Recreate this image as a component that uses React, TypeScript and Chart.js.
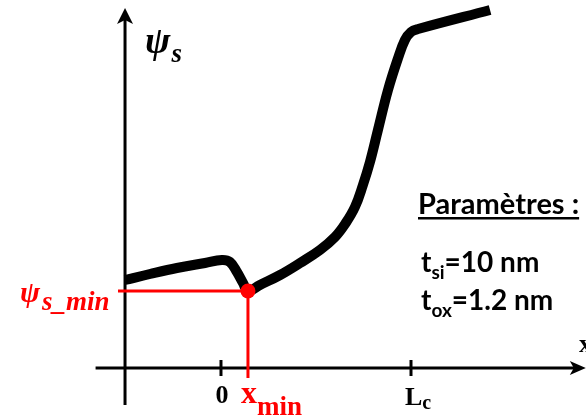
import React, { useEffect, useRef } from "react";
import { Chart, registerables } from "chart.js";

Chart.register(...registerables);

// ---- data (schematic units: x = position, y = surface potential) ----
const curveX = [-50.5, -37.4, -23.2, -8.4, 0.5, 4.7, 8.4, 11.6, 14.2, 20.5, 31.1, 41.6, 52.1, 60, 65.3, 70.5, 74.7, 78.4, 82.6, 87.9, 93.2, 96.8, 100, 103.7, 141.6];
const curveY = [88, 94, 100, 105, 108, 106, 96, 85, 77, 83, 93, 105, 118, 131, 144, 161, 183, 206, 238, 278, 310, 328, 336, 339, 358];
const minPointX = [14.2];
const minPointY = [77];
const hLineX = [-54.2, 14.2];
const vLineY = [77, -10];
const tickValues = [0, 100];
const tickLabels = [["0", ""], ["L", "c"]];
const yAxisX = -50.5;
const yAxisRange = [-37, 360];
const xAxisRange = [-66, 192];
const paramLines = [["t", "si", "=10 nm"], ["t", "ox", "=1.2 nm"]];
const paramTitle = "Paramètres :";

const SERIF = '"Liberation Serif", "DejaVu Serif", serif';
const SANS = 'Lato, "Open Sans", "Noto Sans", sans-serif';

function txt(ctx: CanvasRenderingContext2D, s: string, x: number, y: number, font: string, color: string, align: CanvasTextAlign = "left") {
  ctx.font = font;
  ctx.fillStyle = color;
  ctx.textAlign = align;
  ctx.textBaseline = "alphabetic";
  ctx.fillText(s, x, y);
  return ctx.measureText(s).width;
}

const schematic = {
  id: "schematic",
  beforeDatasetsDraw(chart: any) {
    const { ctx, scales } = chart;
    const xs = scales.x, ys = scales.y;
    const ox = xs.getPixelForValue(yAxisX);
    const oy = ys.getPixelForValue(0);
    const yTop = ys.getPixelForValue(yAxisRange[1]);
    const yBot = ys.getPixelForValue(yAxisRange[0]);
    const xL = xs.getPixelForValue(xAxisRange[0]);
    const xR = xs.getPixelForValue(xAxisRange[1]);
    ctx.save();
    ctx.strokeStyle = "#000";
    ctx.fillStyle = "#000";
    ctx.lineWidth = 3;
    ctx.lineCap = "butt";
    // y axis
    ctx.beginPath();
    ctx.moveTo(ox, yBot);
    ctx.lineTo(ox, yTop + 10);
    ctx.stroke();
    ctx.beginPath();
    ctx.moveTo(ox, yTop);
    ctx.lineTo(ox + 8, yTop + 16);
    ctx.lineTo(ox, yTop + 12);
    ctx.lineTo(ox - 8, yTop + 16);
    ctx.closePath();
    ctx.fill();
    // x axis
    ctx.beginPath();
    ctx.moveTo(xL, oy);
    ctx.lineTo(xR - 10, oy);
    ctx.stroke();
    ctx.beginPath();
    ctx.moveTo(xR, oy);
    ctx.lineTo(xR - 16, oy - 7);
    ctx.lineTo(xR - 12, oy);
    ctx.lineTo(xR - 16, oy + 7);
    ctx.closePath();
    ctx.fill();
    // ticks
    tickValues.forEach((v) => {
      const px = xs.getPixelForValue(v);
      ctx.beginPath();
      ctx.moveTo(px, oy - 8);
      ctx.lineTo(px, oy + 8);
      ctx.stroke();
    });
    ctx.restore();
  },
  afterDatasetsDraw(chart: any) {
    const { ctx, scales } = chart;
    const xs = scales.x, ys = scales.y;
    const oy = ys.getPixelForValue(0);
    ctx.save();
    // tick labels
    tickValues.forEach((v, i) => {
      const px = xs.getPixelForValue(v);
      const [main, sub] = tickLabels[i];
      if (!sub) {
        txt(ctx, main, px + 1, oy + 35, `bold 26px ${SERIF}`, "#000", "center");
      } else {
        const w = txt(ctx, main, px - 6, oy + 37, `bold 26px ${SERIF}`, "#000");
        txt(ctx, sub, px - 6 + w, oy + 41, `bold 20px ${SERIF}`, "#000");
      }
    });
    // x_min
    const mx = xs.getPixelForValue(minPointX[0]);
    const my = ys.getPixelForValue(minPointY[0]);
    const wx = txt(ctx, "x", mx - 7, oy + 35, `bold 32px ${SERIF}`, "#ff0000");
    txt(ctx, "min", mx - 7 + wx, oy + 47, `bold 27px ${SERIF}`, "#ff0000");
    // psi_s_min
    const wp = txt(ctx, "ψ", 20, my + 11, `bold italic 30px ${SERIF}`, "#ff0000");
    txt(ctx, "s_min", 20 + wp + 2, my + 19, `bold italic 27px ${SERIF}`, "#ff0000");
    // psi_s axis title
    const ox = xs.getPixelForValue(yAxisX);
    const wp2 = txt(ctx, "ψ", ox + 20, 53, `bold italic 38px ${SERIF}`, "#000");
    txt(ctx, "s", ox + 20 + wp2 + 1, 62, `bold italic 27px ${SERIF}`, "#000");
    // x axis title (cut at edge)
    txt(ctx, "x", chart.width - 7, oy - 16, `bold 26px ${SERIF}`, "#000");
    // parameters
    const tw = txt(ctx, paramTitle, 418, 214, `bold 29px ${SANS}`, "#000");
    ctx.fillStyle = "#000";
    ctx.fillRect(418, 217, tw, 2.5);
    paramLines.forEach((ln, i) => {
      const base = 272 + i * 38;
      let x0 = 421;
      x0 += txt(ctx, ln[0], x0, base, `bold 28px ${SANS}`, "#000");
      x0 += txt(ctx, ln[1], x0, base + 7, `bold 19px ${SANS}`, "#000");
      txt(ctx, ln[2], x0, base, `bold 28px ${SANS}`, "#000");
    });
    ctx.restore();
  },
};

export default function App() {
  const ref = useRef<HTMLCanvasElement | null>(null);
  useEffect(() => {
    const canvas = ref.current;
    if (!canvas) return;
    const chart = new Chart(canvas, {
      type: "line",
      data: {
        datasets: [
          {
            data: minPointX.map((x, i) => ({ x, y: minPointY[i] })),
            showLine: false,
            pointRadius: 7.5,
            pointBackgroundColor: "#ff0000",
            pointBorderColor: "#ff0000",
            pointBorderWidth: 0,
          },
          {
            data: hLineX.map((x) => ({ x, y: minPointY[0] })),
            borderColor: "#ff0000",
            borderWidth: 3,
            pointRadius: 0,
            tension: 0,
          },
          {
            data: vLineY.map((y) => ({ x: minPointX[0], y })),
            borderColor: "#ff0000",
            borderWidth: 3,
            pointRadius: 0,
            tension: 0,
          },
          {
            data: curveX.map((x, i) => ({ x, y: curveY[i] })),
            borderColor: "#000",
            borderWidth: 10,
            pointRadius: 0,
            tension: 0.4,
            borderCapStyle: "butt",
            borderJoinStyle: "round",
          },
        ],
      } as any,
      options: {
        animation: false,
        responsive: false,
        layout: { padding: 0, autoPadding: false },
        plugins: { legend: { display: false }, tooltip: { enabled: false } },
        scales: {
          x: { type: "linear", display: false, min: -116.3, max: 192.1 },
          y: { type: "linear", display: false, min: -51, max: 368 },
        },
      },
      plugins: [schematic],
    });
    return () => chart.destroy();
  }, []);
  return (
    <div style={{ position: "absolute", left: 0, top: 0, width: 586, height: 419, background: "#fff" }}>
      <canvas ref={ref} width={586} height={419} />
    </div>
  );
}
